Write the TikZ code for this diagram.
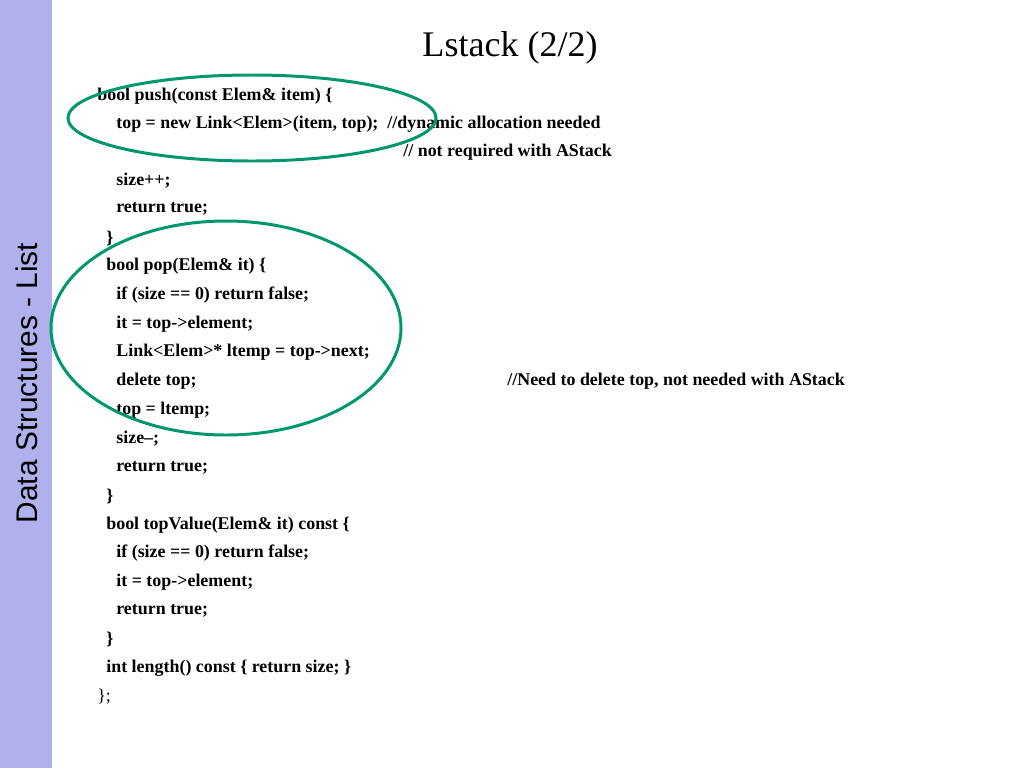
\documentclass[tikz,border=0pt]{standalone}
\usepackage{fontspec}
\setmainfont{Liberation Serif}
\newfontfamily\sidefont{Liberation Sans}
\definecolor{sidebar}{RGB}{176,176,236}
\definecolor{ringgreen}{RGB}{0,150,110}
\tikzset{
  code/.style={anchor=west, inner sep=0pt, font=\fontsize{10.2}{12}\selectfont\bfseries},
  ring/.style={draw=ringgreen, line width=1.7pt}
}
\begin{document}
\begin{tikzpicture}[x=0.02cm, y=-0.02cm]
    \useasboundingbox (0,0) rectangle (1024,768);
    % Side bar
    \fill[sidebar] (0,0) rectangle (52,768);
    \node[rotate=90, font=\sidefont\fontsize{17}{20}\selectfont] (side) at (27,383) {Data Structures - List};
    % Title
    \node[font=\fontsize{20.5}{24}\selectfont] (title) at (510,48) {Lstack (2/2)};
    % push
    \node[code] (l1) at (97,96) {bool push(const Elem\& item) \{};
    \node[code] (l2) at (116,124) {top = new Link<Elem>(item, top);\ \ //dynamic allocation needed};
    \node[code] (l3) at (403,152) {// not required with AStack};
    \node[code] (l4) at (116,181) {size++;};
    \node[code] (l5) at (116,209) {return true;};
    \node[code] (l6) at (106,238) {\}};
    % pop
    \node[code] (l7) at (106,266) {bool pop(Elem\& it) \{};
    \node[code] (l8) at (116,295) {if (size == 0) return false;};
    \node[code] (l9) at (116,324) {it = top->element;};
    \node[code] (l10) at (116,352) {Link<Elem>* ltemp = top->next;};
    \node[code] (l11) at (116,381) {delete top;};
    \node[code] (l11c) at (507,381) {//Need to delete top, not needed with AStack};
    \node[code] (l12) at (116,410) {top = ltemp;};
    \node[code] (l13) at (116,439) {size--;};
    \node[code] (l14) at (116,468) {return true;};
    \node[code] (l15) at (106,496) {\}};
    % topValue
    \node[code] (l16) at (106,525) {bool topValue(Elem\& it) const \{};
    \node[code] (l17) at (116,553) {if (size == 0) return false;};
    \node[code] (l18) at (116,582) {it = top->element;};
    \node[code] (l19) at (116,611) {return true;};
    \node[code] (l20) at (106,639) {\}};
    \node[code] (l21) at (106,668) {int length() const \{ return size; \}};
    \node[code, font=\fontsize{10.2}{12}\selectfont] (l22) at (97,697) {\};};
    % Highlights
    \draw[ring] (252,118) ellipse [x radius=184, y radius=43];
    \draw[ring] (226,328) ellipse [x radius=175, y radius=107];
\end{tikzpicture}
\end{document}
